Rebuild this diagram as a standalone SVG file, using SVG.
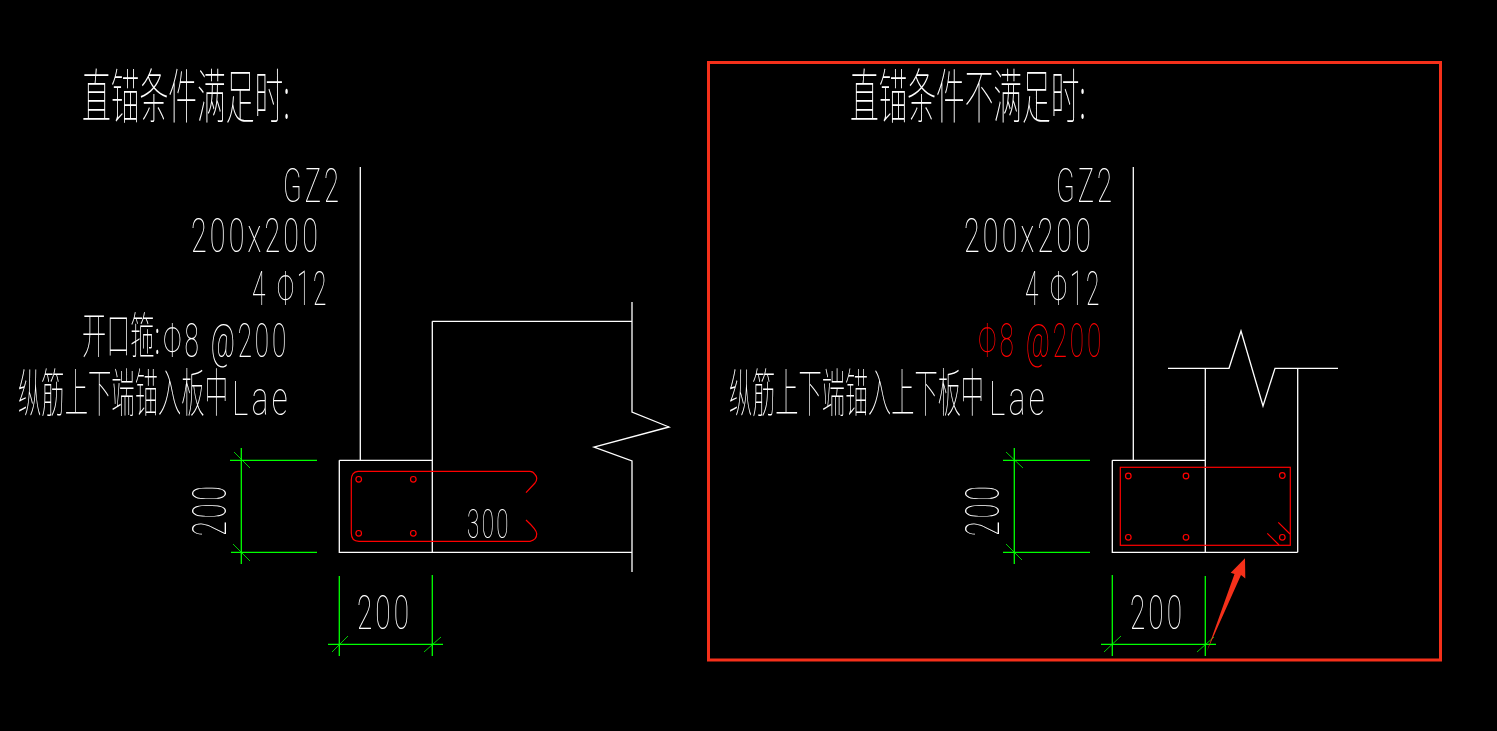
<svg xmlns="http://www.w3.org/2000/svg" width="1497" height="731" viewBox="0 0 1497 731">
<defs><filter id="gray" x="0" y="0" width="1497" height="731" filterUnits="userSpaceOnUse" color-interpolation-filters="sRGB"><feOffset dx="0" dy="0"/></filter></defs>
<style>
.w{fill:none;stroke:#fff;stroke-width:1.3}
.g{fill:none;stroke:#0f0;stroke-width:1.3}
.gt{fill:none;stroke:#0f0;stroke-width:.8}
.r{fill:none;stroke:#f00;stroke-width:1.2}
text{fill:#fff;font-family:Roboto,"Liberation Sans",sans-serif;font-weight:100}
.c{font-family:"Noto Sans CJK SC",sans-serif;font-weight:100;font-size:59px}
.n{font-size:49px;letter-spacing:.11em}
.red{fill:#f00}
</style>
<rect width="1497" height="731" fill="#000"/>
<g id="left-labels" filter="url(#gray)">
<text class="c" x="82" y="118" textLength="208" lengthAdjust="spacingAndGlyphs">直锚条件满足时:</text>
<text class="n" x="283" y="202" textLength="59" lengthAdjust="spacingAndGlyphs">GZ2</text>
<text class="n" x="191" y="252" textLength="130" lengthAdjust="spacingAndGlyphs">200x200</text>
<text class="n" x="252" y="305" textLength="77" lengthAdjust="spacingAndGlyphs">4 Φ12</text>
<text class="c" x="82" y="353" style="font-size:49px" textLength="78" lengthAdjust="spacingAndGlyphs">开口箍:</text>
<text class="n" x="163" y="357" textLength="126" lengthAdjust="spacingAndGlyphs">Φ8 @200</text>
<text class="c" x="18" y="412" style="font-size:52px" textLength="210" lengthAdjust="spacingAndGlyphs">纵筋上下端锚入板中</text>
<text class="n" x="232" y="415" textLength="59" lengthAdjust="spacingAndGlyphs">Lae</text>
<text class="n" x="467" y="538" style="font-size:41px" textLength="44" lengthAdjust="spacingAndGlyphs">300</text>
<text class="n" x="357" y="629" textLength="55" lengthAdjust="spacingAndGlyphs">200</text>
<text class="n" transform="translate(226 536) rotate(-90)" textLength="53" lengthAdjust="spacingAndGlyphs">200</text>
</g>
<g id="left-structure">
<path class="w" d="M360.3 167V460.3M339.3 460.3H432.3M339.3 460.3V552.3H632M432.3 321.3V552.3M432.3 321.3H632M632 302V412L669 427L594 447L632 461V572"/>
</g>
<g id="left-rebar">
<path class="r" d="M526 492.7L535 483Q538.5 478 535 474.5Q533 471.3 530 471.3H358Q351.3 472 351.3 480V533Q351.3 541.3 359 541.3H530Q536.7 540 536.7 534Q537 530 526 520"/>
<circle class="r" cx="358.7" cy="479.3" r="2.8"/><circle class="r" cx="413.3" cy="479.3" r="2.8"/><circle class="r" cx="358.7" cy="533.3" r="2.8"/><circle class="r" cx="413.3" cy="533.3" r="2.8"/>
</g>
<g id="left-dimensions">
<path class="g" d="M241.3 448V564M230 460.3H317M231 552.3H317M339.3 576V656M432.3 575V656M328 644.3H443"/>
<path class="gt" d="M234 452L250 468M233 544L250 561M332 652L348 636M424 652L441 637"/>
</g>
<g id="right-frame">
<rect x="708.5" y="62.5" width="732" height="597.5" fill="none" stroke="#f5301a" stroke-width="3"/>
</g>
<g id="right-labels" filter="url(#gray)">
<text class="c" x="850" y="118" textLength="236" lengthAdjust="spacingAndGlyphs">直锚条件不满足时:</text>
<text class="n" x="1056" y="202" textLength="59" lengthAdjust="spacingAndGlyphs">GZ2</text>
<text class="n" x="964" y="252" textLength="130" lengthAdjust="spacingAndGlyphs">200x200</text>
<text class="n" x="1025" y="305" textLength="77" lengthAdjust="spacingAndGlyphs">4 Φ12</text>
<text class="n red" x="978" y="357" textLength="126" lengthAdjust="spacingAndGlyphs">Φ8 @200</text>
<text class="c" x="729" y="412" style="font-size:52px" textLength="255" lengthAdjust="spacingAndGlyphs">纵筋上下端锚入上下板中</text>
<text class="n" x="989" y="415" textLength="59" lengthAdjust="spacingAndGlyphs">Lae</text>
<text class="n" x="1130" y="629" textLength="55" lengthAdjust="spacingAndGlyphs">200</text>
<text class="n" transform="translate(999 536) rotate(-90)" textLength="53" lengthAdjust="spacingAndGlyphs">200</text>
</g>
<g id="right-structure">
<path class="w" d="M1133.3 167V460.3M1112.3 460.3H1205.3M1112.3 460.3V552.3H1297.7M1205.3 368.3V552.3M1297.7 368.3V552.3M1168 368.3H1229L1241 331L1263 406L1275 368.3H1338"/>
</g>
<g id="right-rebar">
<rect class="r" x="1120.3" y="467.3" width="170" height="78"/>
<path class="r" d="M1278.3 522.3L1290 534M1267.3 533.3L1279 545"/>
<circle class="r" cx="1128.3" cy="476" r="2.8"/><circle class="r" cx="1186" cy="476" r="2.8"/><circle class="r" cx="1282.3" cy="475.5" r="2.8"/><circle class="r" cx="1128.3" cy="537.3" r="2.8"/><circle class="r" cx="1186" cy="537.3" r="2.8"/><circle class="r" cx="1282.3" cy="537.3" r="2.8"/>
</g>
<g id="right-dimensions">
<path class="g" d="M1014.3 448V564M1003 460.3H1090M1003 552.3H1090M1112.3 575V656M1205.3 576V656M1101 644.3H1216"/>
<path class="gt" d="M1006 452L1023 468M1006 544L1022 560M1104 652L1121 636M1197 652L1214 637"/>
</g>
<g id="arrow">
<path fill="#f5301a" d="M1245 558.3L1245.3 578.5L1241 575L1207 651L1234.5 574L1230.7 572.7Z"/>
</g>
</svg>
